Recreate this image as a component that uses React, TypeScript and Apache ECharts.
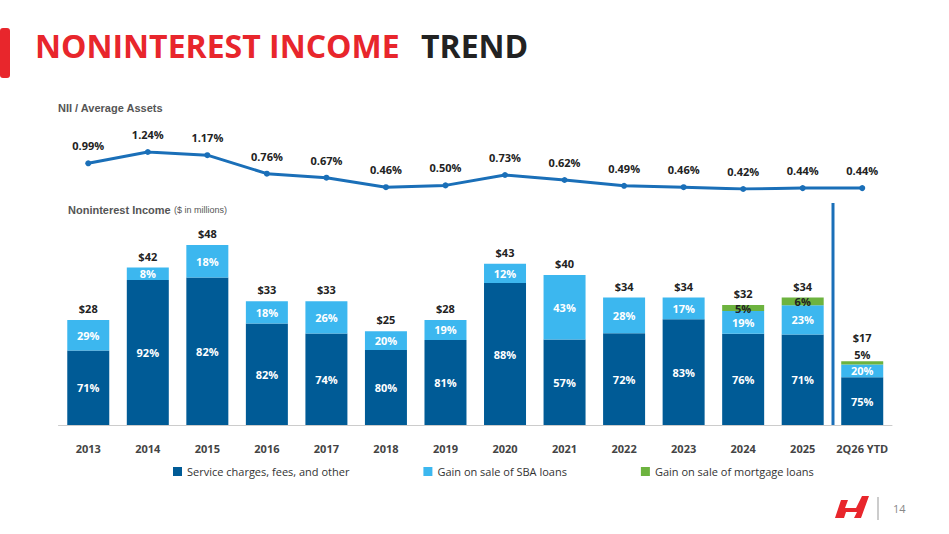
import * as echarts from 'echarts';
import { useEffect, useRef } from 'react';

const years = ['2013', '2014', '2015', '2016', '2017', '2018', '2019', '2020', '2021', '2022', '2023', '2024', '2025', '2Q26 YTD'];
const niiRatio = [0.99, 1.24, 1.17, 0.76, 0.67, 0.46, 0.50, 0.73, 0.62, 0.49, 0.46, 0.42, 0.44, 0.44];
const totals = [28, 42, 48, 33, 33, 25, 28, 43, 40, 34, 34, 32, 34, 17];
const servicePct = [71, 92, 82, 82, 74, 80, 81, 88, 57, 72, 83, 76, 71, 75];
const sbaPct = [29, 8, 18, 18, 26, 20, 19, 12, 43, 28, 17, 19, 23, 20];
const mortgagePct = [0, 0, 0, 0, 0, 0, 0, 0, 0, 0, 0, 5, 6, 5];

const FONT = 'Open Sans';

export default function App() {
    const chartRef = useRef<HTMLDivElement>(null);

    useEffect(() => {
        const chart = echarts.init(chartRef.current, null, { renderer: 'svg' });
        const part = (pct: number[]) => pct.map((p, i) => +(totals[i] * p / 100).toFixed(2));
        const pctLabel = (pct: number[], color: string) => ({
            show: true,
            position: 'inside' as const,
            color,
            fontFamily: FONT,
            fontSize: 11,
            fontWeight: 'bold' as const,
            formatter: (p: any) => (pct[p.dataIndex] ? pct[p.dataIndex] + '%' : ''),
        });
        const last = years.length - 1;
        const grid = { left: 58.5, right: 57 };
        chart.setOption({
            animation: false,
            textStyle: { fontFamily: FONT },
            graphic: [
                { type: 'rect', shape: { x: 0, y: 28, width: 10, height: 50, r: 3 }, style: { fill: '#e8262c' } },
                { type: 'text', x: 35, y: 29, style: { text: 'NONINTEREST INCOME', fill: '#e8262c', font: 'bold 32px "Open Sans"' } },
                { type: 'text', x: 421, y: 29, style: { text: 'TREND', fill: '#222', font: 'bold 32px "Open Sans"' } },
                { type: 'text', x: 58, y: 102, style: { text: 'NII / Average Assets', fill: '#555', font: 'bold 11px Arial' } },
                {
                    type: 'text', x: 68, y: 204, style: {
                        text: '{a|Noninterest Income} {b|($ in millions)}',
                        rich: { a: { font: 'bold 11px Arial', fill: '#555' }, b: { font: '9px Arial', fill: '#555' } },
                    },
                },
                { type: 'line', shape: { x1: 833, y1: 203, x2: 833, y2: 425 }, style: { stroke: '#1a6fb8', lineWidth: 3 } },
                { type: 'polygon', shape: { points: [[835, 518], [841, 500], [848, 500], [845, 508], [856, 508], [862, 496], [869, 496], [861, 518], [854, 518], [857, 512], [846, 512], [844, 518]] }, style: { fill: '#e8262c' } },
                { type: 'line', shape: { x1: 878, y1: 497, x2: 878, y2: 520 }, style: { stroke: '#999', lineWidth: 1 } },
                { type: 'text', x: 893, y: 503, style: { text: '14', fill: '#888', font: '11px "Open Sans"' } },
            ],
            legend: {
                top: 461,
                left: 168,
                itemGap: 74,
                itemWidth: 9,
                itemHeight: 9,
                icon: 'rect',
                data: ['Service charges, fees, and other', 'Gain on sale of SBA loans', 'Gain on sale of mortgage loans'],
                textStyle: { fontFamily: FONT, fontSize: 11, color: '#333' },
            },
            grid: [
                { ...grid, top: 152, height: 37 },
                { ...grid, top: 237.5, height: 187.5 },
            ],
            xAxis: [
                { gridIndex: 0, type: 'category', data: years, show: false },
                {
                    gridIndex: 1, type: 'category', data: years,
                    axisLine: { lineStyle: { color: '#ccc' } }, axisTick: { show: false },
                    axisLabel: { interval: 0, color: '#444', fontFamily: FONT, fontSize: 11, fontWeight: 'bold', margin: 18 },
                },
            ],
            yAxis: [
                { gridIndex: 0, type: 'value', min: 0.42, max: 1.24, show: false },
                { gridIndex: 1, type: 'value', min: 0, max: 50, show: false },
            ],
            series: [
                {
                    type: 'line', xAxisIndex: 0, yAxisIndex: 0, data: niiRatio,
                    symbol: 'circle', symbolSize: 6,
                    lineStyle: { color: '#1a6fb8', width: 3 }, itemStyle: { color: '#1a6fb8' },
                    label: {
                        show: true, position: 'top', distance: 9, color: '#222', fontSize: 11, fontWeight: 'bold',
                        formatter: (p: any) => p.value.toFixed(2) + '%',
                    },
                },
                {
                    name: 'Service charges, fees, and other', type: 'bar', stack: 'a', xAxisIndex: 1, yAxisIndex: 1,
                    data: part(servicePct), barWidth: 42, itemStyle: { color: '#005b96' }, label: pctLabel(servicePct, '#fff'),
                },
                {
                    name: 'Gain on sale of SBA loans', type: 'bar', stack: 'a', xAxisIndex: 1, yAxisIndex: 1,
                    data: part(sbaPct), itemStyle: { color: '#3cb7ef' }, label: pctLabel(sbaPct, '#fff'),
                },
                {
                    name: 'Gain on sale of mortgage loans', type: 'bar', stack: 'a', xAxisIndex: 1, yAxisIndex: 1,
                    data: part(mortgagePct).map((v, i) => (i === last ? { value: v, label: { position: 'top', distance: 1 } } : v)),
                    itemStyle: { color: '#6db33f' }, label: pctLabel(mortgagePct, '#222'),
                },
                {
                    type: 'bar', stack: 'a', xAxisIndex: 1, yAxisIndex: 1,
                    data: totals.map((_, i) => (i === last ? { value: 0, label: { distance: 18 } } : 0)),
                    itemStyle: { color: 'transparent' },
                    label: {
                        show: true, position: 'top', distance: 6, color: '#222', fontSize: 11, fontWeight: 'bold',
                        formatter: (p: any) => '$' + totals[p.dataIndex],
                    },
                },
            ],
        });
        return () => chart.dispose();
    }, []);

    return <div ref={chartRef} style={{ position: 'absolute', left: 0, top: 0, width: 949, height: 534 }} />;
}
